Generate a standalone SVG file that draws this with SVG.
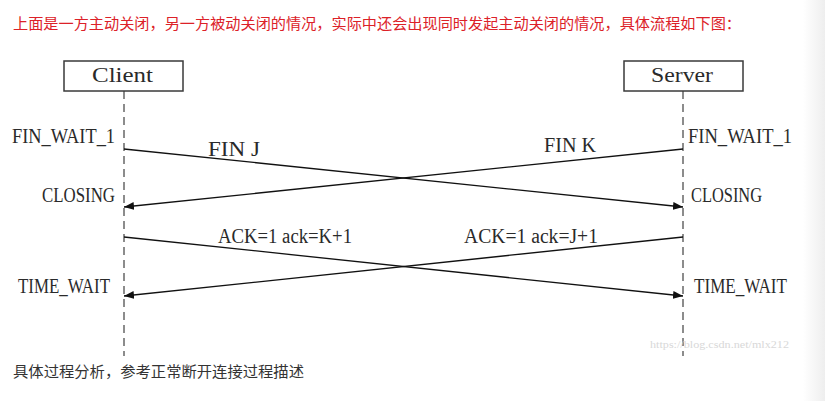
<svg xmlns="http://www.w3.org/2000/svg" width="825" height="401" viewBox="0 0 825 401">
<defs>
<style>
.lbl{font-family:"Liberation Serif",serif;font-size:20px;fill:#2a2a2a;}
.cjk{font-family:"Noto Sans CJK SC","Noto Sans",sans-serif;font-size:15px;}
.life{stroke:#707070;stroke-width:1.6;stroke-dasharray:8 5;fill:none;}
.box{fill:#fff;stroke:#3a3a3a;stroke-width:1.5;}
.msg{stroke:#111;stroke-width:1.3;fill:none;marker-end:url(#ah);}
</style>
<marker id="ah" markerUnits="userSpaceOnUse" markerWidth="11" markerHeight="9" refX="10" refY="4" orient="auto">
<path d="M0,0 L10,4 L0,8 z" fill="#111"/>
</marker>
<linearGradient id="edge" x1="0" y1="0" x2="1" y2="0">
<stop offset="0" stop-color="#ffffff"/>
<stop offset="1" stop-color="#eeeeee"/>
</linearGradient>
</defs>
<rect width="825" height="401" fill="#fff"/>
<rect x="803" y="0" width="22" height="401" fill="url(#edge)"/>
<text class="cjk" x="13" y="29" fill="#dc2128" textLength="728" lengthAdjust="spacingAndGlyphs">上面是一方主动关闭，另一方被动关闭的情况，实际中还会出现同时发起主动关闭的情况，具体流程如下图：</text>
<g id="client">
<line class="life" x1="124" y1="91" x2="124" y2="356"/>
<rect class="box" x="64" y="61" width="119" height="30"/>
<text class="lbl" x="92" y="82" textLength="61" lengthAdjust="spacingAndGlyphs">Client</text>
</g>
<g id="server">
<line class="life" x1="683" y1="91" x2="683" y2="356"/>
<rect class="box" x="624" y="61" width="119" height="30"/>
<text class="lbl" x="651" y="82" textLength="62" lengthAdjust="spacingAndGlyphs">Server</text>
</g>
<g id="states">
<text class="lbl" x="12" y="143" textLength="103" lengthAdjust="spacingAndGlyphs">FIN_WAIT_1</text>
<text class="lbl" x="688" y="143" textLength="104" lengthAdjust="spacingAndGlyphs">FIN_WAIT_1</text>
<text class="lbl" x="42" y="202" textLength="73" lengthAdjust="spacingAndGlyphs">CLOSING</text>
<text class="lbl" x="691" y="202" textLength="71" lengthAdjust="spacingAndGlyphs">CLOSING</text>
<text class="lbl" x="18" y="293" textLength="92" lengthAdjust="spacingAndGlyphs">TIME_WAIT</text>
<text class="lbl" x="694" y="293" textLength="93" lengthAdjust="spacingAndGlyphs">TIME_WAIT</text>
</g>
<g id="connectors">
<line class="msg" x1="124" y1="149" x2="683" y2="207"/>
<line class="msg" x1="683" y1="149" x2="124" y2="207"/>
<line class="msg" x1="124" y1="237" x2="683" y2="296"/>
<line class="msg" x1="683" y1="237" x2="124" y2="296"/>
<text class="lbl" x="208" y="156" textLength="52" lengthAdjust="spacingAndGlyphs">FIN J</text>
<text class="lbl" x="544" y="152" textLength="52" lengthAdjust="spacingAndGlyphs">FIN K</text>
<text class="lbl" x="218" y="243" textLength="134" lengthAdjust="spacingAndGlyphs">ACK=1 ack=K+1</text>
<text class="lbl" x="464" y="243" textLength="134" lengthAdjust="spacingAndGlyphs">ACK=1 ack=J+1</text>
</g>
<text x="650" y="348" font-family="Liberation Serif,serif" font-size="10" fill="#d8d8d8" textLength="139" lengthAdjust="spacingAndGlyphs">https://blog.csdn.net/mlx212</text>
<text class="cjk" x="13" y="377" fill="#333" textLength="291" lengthAdjust="spacingAndGlyphs">具体过程分析，参考正常断开连接过程描述</text>
</svg>
